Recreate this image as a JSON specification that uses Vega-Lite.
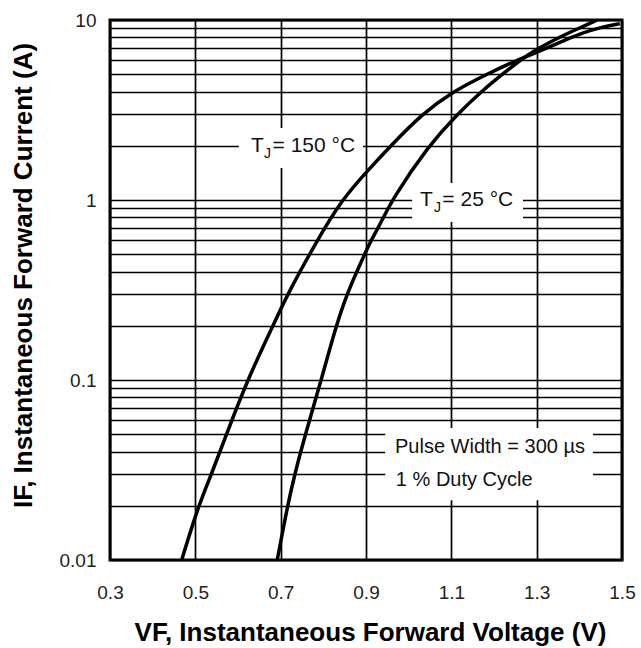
{
  "$schema": "https://vega.github.io/schema/vega-lite/v6.json",
  "width": 512,
  "height": 540,
  "autosize": {"type": "none"},
  "padding": {"left": 110, "top": 20, "right": 19, "bottom": 88},
  "background": "white",
  "config": {
    "view": {"stroke": "black", "strokeWidth": 3},
    "font": "Liberation Sans"
  },
  "datasets": {
    "curves": [
      {"series": "150", "V": 0.468, "I": 0.01},
      {"series": "150", "V": 0.507, "I": 0.02},
      {"series": "150", "V": 0.538, "I": 0.03},
      {"series": "150", "V": 0.573, "I": 0.05},
      {"series": "150", "V": 0.622, "I": 0.1},
      {"series": "150", "V": 0.682, "I": 0.2},
      {"series": "150", "V": 0.716, "I": 0.3},
      {"series": "150", "V": 0.786, "I": 0.6},
      {"series": "150", "V": 0.843, "I": 1.0},
      {"series": "150", "V": 0.903, "I": 1.45},
      {"series": "150", "V": 0.958, "I": 2.0},
      {"series": "150", "V": 1.031, "I": 3.0},
      {"series": "150", "V": 1.103, "I": 4.0},
      {"series": "150", "V": 1.183, "I": 5.0},
      {"series": "150", "V": 1.255, "I": 6.0},
      {"series": "150", "V": 1.31, "I": 6.75},
      {"series": "150", "V": 1.37, "I": 7.8},
      {"series": "150", "V": 1.409, "I": 8.5},
      {"series": "150", "V": 1.45, "I": 9.1},
      {"series": "150", "V": 1.495, "I": 9.55},
      {"series": "25", "V": 0.692, "I": 0.01},
      {"series": "25", "V": 0.716, "I": 0.02},
      {"series": "25", "V": 0.733, "I": 0.03},
      {"series": "25", "V": 0.758, "I": 0.05},
      {"series": "25", "V": 0.795, "I": 0.1},
      {"series": "25", "V": 0.830, "I": 0.2},
      {"series": "25", "V": 0.855, "I": 0.3},
      {"series": "25", "V": 0.89, "I": 0.46},
      {"series": "25", "V": 0.912, "I": 0.6},
      {"series": "25", "V": 0.929, "I": 0.7},
      {"series": "25", "V": 0.960, "I": 1.0},
      {"series": "25", "V": 1.046, "I": 2.0},
      {"series": "25", "V": 1.114, "I": 3.0},
      {"series": "25", "V": 1.170, "I": 4.0},
      {"series": "25", "V": 1.220, "I": 5.0},
      {"series": "25", "V": 1.262, "I": 6.0},
      {"series": "25", "V": 1.30, "I": 6.9},
      {"series": "25", "V": 1.37, "I": 8.4},
      {"series": "25", "V": 1.409, "I": 9.2},
      {"series": "25", "V": 1.441, "I": 10}
    ],
    "boxes": [
      {"V": 0.602, "V2": 0.893, "I": 1.506, "I2": 2.512},
      {"V": 1.008, "V2": 1.268, "I": 0.755, "I2": 1.242},
      {"V": 0.945, "V2": 1.432, "I": 0.0215, "I2": 0.0541}
    ],
    "labels": [
      {"part": "main", "V": 0.6305, "I": 2.0, "text": "T"},
      {"part": "sub", "V": 0.661, "I": 2.0, "text": "J"},
      {"part": "main", "V": 0.681, "I": 2.0, "text": "= 150 °C"},
      {"part": "main", "V": 1.0266, "I": 1.0, "text": "T"},
      {"part": "sub", "V": 1.0594, "I": 1.0, "text": "J"},
      {"part": "main", "V": 1.079, "I": 1.0, "text": "= 25 °C"},
      {"part": "note", "V": 0.968, "I": 0.0425, "text": "Pulse Width = 300 µs"},
      {"part": "note", "V": 0.970, "I": 0.0278, "text": "1 % Duty Cycle"}
    ]
  },
  "encoding": {
    "x": {
      "field": "V", "type": "quantitative",
      "scale": {"type": "linear", "domain": [0.3, 1.5], "nice": false, "zero": false},
      "title": "VF, Instantaneous Forward Voltage (V)",
      "axis": {
        "values": [0.3, 0.5, 0.7, 0.9, 1.1, 1.3, 1.5],
        "format": ".1f",
        "grid": true, "gridColor": "#000", "gridWidth": 1.7, "gridOpacity": 1,
        "domain": false, "ticks": false, "tickSize": 0,
        "labelFont": "Liberation Sans", "labelFontSize": 19, "labelColor": "#222",
        "labelPadding": 38, "labelBaseline": "alphabetic",
        "labelFlush": false, "labelOverlap": false,
        "titleFont": "Liberation Sans", "titleFontSize": 26, "titleFontWeight": "bold",
        "titleColor": "#000", "titleX": 260, "titleY": 80,
        "titleBaseline": "alphabetic", "titleAlign": "center"
      }
    },
    "y": {
      "field": "I", "type": "quantitative",
      "scale": {"type": "log", "domain": [0.01, 10], "nice": false},
      "title": "IF, Instantaneous Forward Current (A)",
      "axis": {
        "values": [0.01, 0.02, 0.03, 0.04, 0.05, 0.06, 0.07, 0.08, 0.09, 0.1, 0.2, 0.3, 0.4, 0.5, 0.6, 0.7, 0.8, 0.9, 1, 2, 3, 4, 5, 6, 7, 8, 9, 10],
        "format": "~g",
        "labelExpr": "(datum.value == 0.01 || datum.value == 0.1 || datum.value == 1 || datum.value == 10) ? datum.label : ''",
        "grid": true, "gridColor": "#000", "gridWidth": 1.7, "gridOpacity": 1,
        "domain": false, "ticks": false, "tickSize": 0,
        "labelFont": "Liberation Sans", "labelFontSize": 19, "labelColor": "#222",
        "labelPadding": 14, "labelOverlap": false, "labelBaseline": "middle",
        "titleFont": "Liberation Sans", "titleFontSize": 26, "titleFontWeight": "bold",
        "titleColor": "#000", "titleX": -79, "titleY": 255, "titleAngle": -90,
        "titleBaseline": "alphabetic", "titleAlign": "center"
      }
    }
  },
  "layer": [
    {
      "data": {"name": "boxes"},
      "mark": {"type": "rect", "fill": "white", "strokeWidth": 0},
      "encoding": {
        "x2": {"field": "V2"},
        "y2": {"field": "I2"}
      }
    },
    {
      "data": {"name": "curves"},
      "mark": {"type": "line", "color": "black", "strokeWidth": 3.5, "interpolate": "basis", "clip": true},
      "encoding": {
        "detail": {"field": "series"},
        "order": {"field": "V", "type": "quantitative"}
      }
    },
    {
      "data": {"name": "labels"},
      "transform": [{"filter": "datum.part == 'main'"}],
      "mark": {"type": "text", "align": "left", "baseline": "middle", "font": "Liberation Sans", "fontSize": 21, "color": "#111"},
      "encoding": {
        "text": {"field": "text"}
      }
    },
    {
      "data": {"name": "labels"},
      "transform": [{"filter": "datum.part == 'sub'"}],
      "mark": {"type": "text", "align": "left", "baseline": "middle", "dy": 8, "font": "Liberation Sans", "fontSize": 14, "color": "#111"},
      "encoding": {
        "text": {"field": "text"}
      }
    },
    {
      "data": {"name": "labels"},
      "transform": [{"filter": "datum.part == 'note'"}],
      "mark": {"type": "text", "align": "left", "baseline": "middle", "font": "Liberation Sans", "fontSize": 20, "color": "#111"},
      "encoding": {
        "text": {"field": "text"}
      }
    }
  ]
}
